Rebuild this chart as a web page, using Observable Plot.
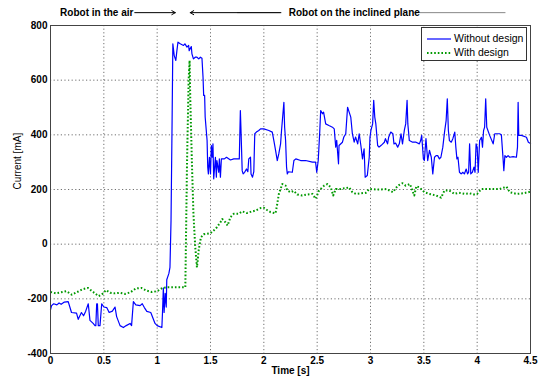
<!DOCTYPE html>
<html>
<head>
<meta charset="utf-8">
<script src="https://cdn.jsdelivr.net/npm/d3@7"></script>
<script src="https://cdn.jsdelivr.net/npm/@observablehq/plot@0.6"></script>
<style>
  body { margin: 0; background: #fff; }
  #wrap { position: relative; width: 544px; height: 383px; font-family: "Liberation Sans", Arial, sans-serif; }
  #wrap > svg { position: absolute; left: 0; top: 0; }
  #legend { position: absolute; left: 421px; top: 27px; width: 104px; height: 32px; border: 1px solid #333; background: #fff; font-size: 10.5px; color: #000; }
  #legend .row { position: absolute; left: 5px; height: 14px; line-height: 14px; white-space: nowrap; }
  #legend svg { vertical-align: middle; margin-right: 3px; }
</style>
</head>
<body>
<div id="wrap"></div>
<script>
// ---- data ----
const seriesNames = ["Without design", "With design"];
const xTicks = [0, 0.5, 1, 1.5, 2, 2.5, 3, 3.5, 4, 4.5];
const yTicks = [-400, -200, 0, 200, 400, 600, 800];
const xLabel = "Time [s]";
const yLabel = "Current [mA]";

// Without design [time s, current mA]
const withoutDesign = [
[0,-240],[0.01,-225],[0.03,-218],[0.06,-222],[0.08,-215],[0.1,-220],[0.13,-212],[0.166,-210],[0.197,-250],[0.244,-252],[0.26,-275],[0.29,-250],[0.31,-262],[0.33,-245],[0.354,-218],[0.37,-279],[0.40,-290],[0.417,-298],[0.425,-298],[0.433,-218],[0.44,-218],[0.448,-298],[0.464,-298],[0.48,-218],[0.5,-230],[0.527,-232],[0.55,-250],[0.58,-245],[0.605,-230],[0.62,-265],[0.652,-298],[0.683,-305],[0.71,-298],[0.746,-290],[0.76,-298],[0.777,-210],[0.8,-222],[0.84,-225],[0.86,-218],[0.88,-232],[0.903,-246],[0.94,-250],[0.98,-290],[1.0,-298],[1.044,-305],[1.05,-250],[1.058,-160],[1.065,-250],[1.075,-180],[1.085,-230],[1.09,-130],[1.11,-107],[1.12,-85],[1.13,87],[1.14,452],[1.147,733],
[1.16,690],[1.175,672],[1.185,708],[1.195,739],[1.216,733],[1.247,727],[1.26,733],[1.28,721],[1.295,727],[1.30,708],[1.32,723],[1.326,696],[1.34,678],[1.357,684],[1.373,684],[1.39,678],[1.405,684],[1.42,680],[1.43,611],[1.436,544],[1.445,544],[1.45,465],[1.468,379],[1.474,282],[1.48,257],[1.49,318],[1.50,257],[1.508,361],[1.517,318],[1.523,367],[1.53,239],[1.546,318],[1.555,245],[1.56,306],[1.577,263],[1.583,312],[1.593,245],[1.602,312],[1.618,312],[1.63,312],[1.65,318],[1.687,308],[1.718,312],[1.77,312],[1.78,489],[1.786,416],[1.797,269],[1.806,257],[1.82,263],[1.837,275],[1.85,265],[1.859,312],[1.875,318],[1.88,257],[1.894,245],[1.906,265],[1.915,404],[1.93,410],[1.953,416],[1.969,422],[2.0,422],[2.047,416],[2.079,410],[2.094,379],[2.11,343],[2.126,306],[2.14,330],[2.157,367],[2.166,416],[2.188,519],[2.195,428],[2.204,379],[2.213,282],[2.22,257],[2.23,265],[2.267,263],[2.282,306],[2.30,312],[2.345,306],[2.392,306],[2.455,300],[2.485,300],[2.496,263],[2.51,306],[2.524,410],[2.533,489],[2.55,477],[2.56,483],[2.58,440],[2.61,434],[2.643,428],[2.66,422],[2.674,355],[2.683,380],[2.70,294],[2.705,361],[2.737,373],[2.75,392],[2.768,404],[2.785,501],[2.80,483],[2.815,465],[2.83,404],[2.847,373],[2.86,392],[2.88,367],[2.894,404],[2.91,360],[2.925,312],[2.94,349],[2.95,245],[2.97,251],[2.988,318],[2.995,391],[3.004,416],[3.02,440],[3.03,526],[3.04,465],[3.05,440],[3.067,361],[3.08,355],[3.098,361],[3.11,365],[3.13,373],[3.14,386],[3.16,367],[3.17,391],[3.19,410],[3.21,404],[3.22,367],[3.235,370],[3.255,355],[3.27,367],[3.286,404],[3.30,367],[3.317,416],[3.33,440],[3.343,526],[3.35,440],[3.364,379],[3.395,373],[3.427,373],[3.458,367],[3.47,379],[3.48,398],[3.496,312],[3.505,306],[3.52,386],[3.536,306],[3.553,343],[3.57,318],[3.584,257],[3.60,318],[3.615,324],[3.63,324],[3.646,312],[3.66,318],[3.678,355],[3.694,410],[3.709,452],[3.72,532],[3.73,416],[3.74,379],[3.757,373],[3.772,386],[3.79,410],[3.80,355],[3.81,312],[3.82,318],[3.834,263],[3.85,257],[3.866,263],[3.88,257],[3.897,275],[3.91,257],[3.92,263],[3.929,367],[3.94,257],[3.955,263],[3.97,282],[3.98,263],[3.99,367],[4.0,355],[4.01,263],[4.023,379],[4.04,391],[4.05,355],[4.06,416],[4.07,428],[4.08,532],[4.09,428],[4.117,398],[4.15,367],[4.165,404],[4.18,404],[4.21,404],[4.227,400],[4.243,312],[4.25,269],[4.26,324],[4.274,318],[4.29,324],[4.305,318],[4.337,320],[4.368,318],[4.378,355],[4.384,519],[4.39,398],[4.415,398],[4.462,391],[4.48,373],[4.5,368]
];

// With design [time s, current mA]
const withDesign = [
[0,-175],[0.05,-180],[0.1,-176],[0.15,-172],[0.2,-185],[0.25,-175],[0.3,-165],[0.35,-160],[0.4,-175],[0.45,-190],[0.48,-185],[0.52,-168],[0.56,-178],[0.6,-180],[0.65,-178],[0.7,-182],[0.75,-176],[0.8,-162],[0.85,-160],[0.9,-170],[0.95,-175],[1.0,-172],[1.05,-160],[1.1,-158],[1.2,-158],[1.264,-158],[1.28,300],[1.295,600],[1.304,672],[1.31,538],[1.326,294],[1.34,111],[1.357,-11],[1.373,-85],[1.39,-20],[1.41,25],[1.436,36],[1.468,38],[1.5,40],[1.53,50],[1.56,62],[1.593,80],[1.61,92],[1.64,80],[1.66,68],[1.687,99],[1.718,111],[1.765,111],[1.797,120],[1.84,114],[1.875,118],[1.922,123],[1.969,132],[2.0,133],[2.03,125],[2.063,117],[2.11,113],[2.126,148],[2.141,184],[2.173,220],[2.204,214],[2.22,196],[2.25,190],[2.28,195],[2.314,182],[2.36,178],[2.41,182],[2.455,184],[2.486,166],[2.517,196],[2.565,214],[2.596,220],[2.628,208],[2.65,178],[2.675,202],[2.72,202],[2.77,205],[2.8,208],[2.83,190],[2.863,184],[2.91,186],[2.957,188],[2.988,202],[3.05,200],[3.1,200],[3.15,202],[3.21,190],[3.255,214],[3.3,223],[3.33,214],[3.37,220],[3.41,178],[3.43,212],[3.458,208],[3.505,190],[3.55,184],[3.615,178],[3.662,170],[3.693,196],[3.74,196],[3.787,184],[3.83,188],[3.88,184],[3.93,186],[3.97,182],[4.0,184],[4.04,202],[4.1,202],[4.21,202],[4.275,210],[4.305,190],[4.37,184],[4.43,186],[4.5,192]
];

// top annotations (time positions; label left edges)
const annotTexts = [
  {t: 0.09, label: "Robot in the air"},
  {t: 2.233, label: "Robot on the inclined plane"}
];
const annotArrows = [
  {t1: 0.79, t2: 1.17},
  {t1: 2.16, t2: 1.31}
];
const annotGrayRules = [
  {t1: 1.754, t2: 2.16},
  {t1: 3.41, t2: 4.27}
];
const annotY = 847;

const blue = "#0000ff";
const green = "#009900";

const chart = Plot.plot({
  width: 544,
  height: 383,
  marginLeft: 50,
  marginRight: 14,
  marginTop: 25,
  marginBottom: 30,
  style: {fontFamily: "'Liberation Sans', Arial, sans-serif", fontSize: "10px", color: "#000", background: "#fff", overflow: "visible"},
  x: {domain: [0, 4.5]},
  y: {domain: [-400, 800]},
  marks: [
    Plot.gridX(xTicks, {stroke: "#333", strokeOpacity: 0.7, strokeDasharray: "1.2,2.4"}),
    Plot.gridY(yTicks, {stroke: "#333", strokeOpacity: 0.7, strokeDasharray: "1.2,2.4"}),
    Plot.line(withoutDesign, {x: d => d[0], y: d => d[1], stroke: blue, strokeWidth: 1.2}),
    Plot.line(withDesign, {x: d => d[0], y: d => d[1], stroke: green, strokeWidth: 2, strokeDasharray: "1.6,2", strokeLinecap: "butt"}),
    Plot.frame({stroke: "#444", strokeWidth: 1}),
    Plot.axisX(xTicks, {tickSize: 0, tickPadding: 3, fontWeight: "bold", fontSize: 10, tickFormat: d => String(d), label: xLabel, labelAnchor: "center", labelArrow: "none", labelOffset: 20}),
    Plot.axisY(yTicks, {tickSize: 0, tickPadding: 3, fontWeight: "bold", fontSize: 10, tickFormat: d => String(d), label: null}),
    Plot.text([yLabel], {frameAnchor: "left", rotate: -90, dx: -33, text: d => d, fontSize: 10, fill: "#000"}),
    Plot.ruleY(annotGrayRules, {x1: "t1", x2: "t2", y: () => annotY, stroke: "#888", strokeWidth: 1}),
    Plot.arrow(annotArrows, {x1: "t1", x2: "t2", y1: () => annotY, y2: () => annotY, stroke: "#000", strokeWidth: 1, headLength: 6}),
    Plot.text(annotTexts, {x: "t", y: () => annotY, text: "label", textAnchor: "start", fontWeight: "bold", fontSize: 10, fill: "#000"})
  ]
});

const wrap = document.getElementById("wrap");
wrap.appendChild(chart);

const legend = document.createElement("div");
legend.id = "legend";
legend.innerHTML = `
  <div class="row" style="top:3px"><svg width="24" height="4"><line x1="0" y1="2" x2="24" y2="2" stroke="${blue}" stroke-width="1.2"/></svg>${seriesNames[0]}</div>
  <div class="row" style="top:17px"><svg width="24" height="4"><line x1="0" y1="2" x2="24" y2="2" stroke="${green}" stroke-width="2" stroke-dasharray="1.6,2"/></svg>${seriesNames[1]}</div>`;
wrap.appendChild(legend);
</script>
</body>
</html>
